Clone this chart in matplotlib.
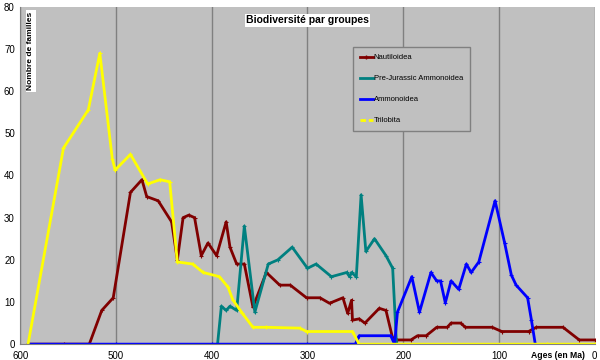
import matplotlib.pyplot as plt
from matplotlib.lines import Line2D

plt.rcParams['font.family'] = ['Liberation Sans', 'DejaVu Sans']

# Nautiloidea
naut_age = [592, 554, 528, 515, 503, 485, 473, 468, 456, 442, 436, 430, 424, 418,
            411, 404, 395, 385, 381, 374, 366, 357, 343, 329, 318, 301, 287, 277,
            263, 258, 254, 253, 246, 240, 225, 218, 211, 207, 192, 185, 176, 165,
            154, 150, 140, 135, 107, 97, 69, 61, 33, 16, 0]
naut_val = [0, 0, 0, 8, 11, 36, 39, 35, 34, 29, 20, 30, 30.6, 30,
            21, 24, 21, 29, 23, 19, 19, 8.8, 17, 14, 14, 11, 11, 9.7,
            11, 7.3, 10.4, 5.7, 6, 5, 8.5, 8, 1.4, 1, 1, 2, 2, 4,
            4, 5, 5, 4, 4, 3, 3, 4, 4, 1, 1]

# Pre-Jurassic Ammonoidea
prej_age = [394, 390, 385, 381, 374, 366, 355, 341, 331, 316, 300, 291, 275,
            259, 256, 254, 249, 244, 239, 230, 218, 211, 207]
prej_val = [0, 9, 8, 9, 8, 28, 7.6, 19, 20, 23, 18, 19, 16,
            17, 16, 17, 16, 35.4, 22, 25, 21, 18, 0]

# Ammonoidea
ammo_age = [592, 500, 400, 300, 250, 246, 213, 209, 206, 191, 183, 171, 165,
            161, 156, 150, 142, 134, 129, 121, 104, 94, 87, 82, 70, 66, 62]
ammo_val = [0, 0, 0, 0, 0, 2, 2, 0, 7.6, 16, 7.6, 17, 15,
            15, 9.8, 15, 13, 19, 17, 19.5, 34, 24, 16.4, 14, 11, 5.7, 0]

# Trilobita
tril_age = [592, 555, 529, 517, 504, 501, 485, 467, 454, 444, 436, 420, 409,
            392, 383, 378, 368, 357, 343, 308, 301, 253, 246, 150, 50, 0]
tril_val = [0, 46.5, 55.6, 69, 44, 41.3, 45, 38, 39, 38.5, 19.5, 19, 17,
            16, 13.5, 10.5, 7.3, 4, 4, 3.8, 3, 3, 0, 0, 0, 0]

series = [
    ('Nautiloidea', naut_age, naut_val, '#800000'),
    ('Pre-Jurassic Ammonoidea', prej_age, prej_val, '#008080'),
    ('Ammonoidea', ammo_age, ammo_val, '#0000ff'),
    ('Trilobita', tril_age, tril_val, '#ffff00'),
]

fig = plt.figure(figsize=(6, 3.6), dpi=100)
ax = fig.add_axes([0.034, 0.044, 0.957, 0.937])
ax.set_facecolor('#c0c0c0')

for name, age, val, color in series:
    ax.plot(age, val, color=color, lw=2, marker='+', ms=2.5, mew=0.8,
            solid_joinstyle='round', solid_capstyle='round')

ax.set_xlim(600, 0)
ax.set_ylim(0, 80)
ax.set_xticks(range(600, -1, -100))
ax.set_yticks(range(0, 81, 10))
ax.grid(axis='x', color='#808080', lw=1)
ax.grid(axis='y', visible=False)
ax.tick_params(labelsize=7, length=0)
ax.tick_params(axis='x', pad=5)
ax.tick_params(axis='y', pad=4)
for side in ['top', 'right']:
    ax.spines[side].set_visible(False)
for side in ['left', 'bottom']:
    ax.spines[side].set_color('#808080')

ax.text(0.5, 0.975, 'Biodiversité par groupes', transform=ax.transAxes,
        ha='center', va='top', fontsize=7.5, fontweight='bold',
        bbox=dict(facecolor='white', edgecolor='none', pad=1))
ax.text(0.012, 0.985, 'Nombre de familles', transform=ax.transAxes,
        ha='left', va='top', rotation=90, fontsize=6, fontweight='bold',
        bbox=dict(facecolor='white', edgecolor='none', pad=1))
ax.text(0.983, -0.035, 'Ages (en Ma)', transform=ax.transAxes,
        ha='right', va='center', fontsize=6.2, fontweight='bold')

handles = [
    Line2D([], [], color='#800000', lw=2, marker='+', ms=3),
    Line2D([], [], color='#008080', lw=2),
    Line2D([], [], color='#0000ff', lw=2),
    Line2D([], [], color='#ffff00', lw=2, ls=(0, (2, 1))),
]
leg = ax.legend(handles, [s[0] for s in series], loc='upper left',
                bbox_to_anchor=(0.579, 0.881), borderaxespad=0,
                fontsize=5.5, frameon=True, fancybox=False,
                handlelength=1.7, handletextpad=0.15,
                labelspacing=1.8, borderpad=0.9)
leg.get_frame().set_facecolor('#c0c0c0')
leg.get_frame().set_edgecolor('#808080')
leg.get_frame().set_alpha(1)

fig.savefig('out.png', dpi=100)
